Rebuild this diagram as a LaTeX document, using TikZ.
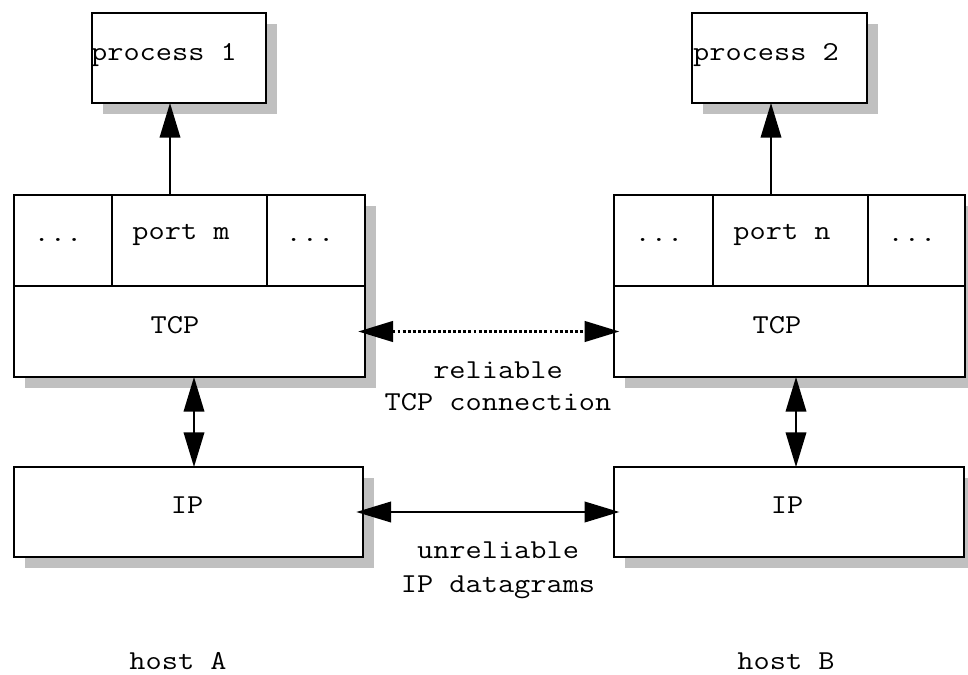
\documentclass[tikz,border=0pt]{standalone}
\usepackage{fontspec}
\newfontfamily\cour{Latin Modern Mono}[FakeStretch=1.15]
\usetikzlibrary{arrows.meta,shadows,fit}
\definecolor{shadowgray}{HTML}{C0C0C0}
\begin{document}
\begin{tikzpicture}[x=0.75pt,y=-0.75pt,
  box/.style={draw, line width=1.3pt, fill=white, inner sep=0pt, outer sep=0pt},
  shbox/.style={box, drop shadow={shadow xshift=8.25pt, shadow yshift=-8.6pt, fill=shadowgray, opacity=1}},
  txt/.style={font=\cour\fontsize{20.5}{24}\selectfont, inner sep=0pt, anchor=base},
  arr/.style={line width=1.1pt, -{Triangle[length=26pt,width=15.5pt]}},
  dbl/.style={line width=1.1pt, {Triangle[length=26pt,width=15.5pt]}-{Triangle[length=26pt,width=15.5pt]}}]
\useasboundingbox (0,0) rectangle (968,675);
\fill[white] (0,0) rectangle (968,675);

% process boxes
\node[shbox, fit={(92,13)(266,103)}] (p1) {};
\node[shbox, fit={(692,13)(867,103)}] (p2) {};

% host A TCP
\node[shbox, fit={(14,195)(365,377)}] (tcpA) {};
\node[box, fit={(14,195)(112,286)}] (dotsA1) {};
\node[box, fit={(112,195)(267,286)}] (portA) {};
\node[box, fit={(267,195)(365,286)}] (dotsA2) {};
\node[box, fit={(14,286)(365,377)}] (tcpAlow) {};

% host B TCP
\node[shbox, fit={(614,195)(965,377)}] (tcpB) {};
\node[box, fit={(614,195)(713,286)}] (dotsB1) {};
\node[box, fit={(713,195)(868,286)}] (portB) {};
\node[box, fit={(868,195)(965,286)}] (dotsB2) {};
\node[box, fit={(614,286)(965,377)}] (tcpBlow) {};

% IP boxes
\node[shbox, fit={(14,467)(363,557)}] (ipA) {};
\node[shbox, fit={(614,467)(964,557)}] (ipB) {};

% texts
\node[txt] (tp1) at (164,60) {process 1};
\node[txt] (tp2) at (766,60) {process 2};
\node[txt] (tdA1) at (58,241) {...};
\node[txt] (tpA) at (181,239) {port m};
\node[txt] (tdA2) at (310,241) {...};
\node[txt] (tdB1) at (659,241) {...};
\node[txt] (tpB) at (782,239) {port n};
\node[txt] (tdB2) at (912,241) {...};
\node[txt] (ttA) at (175,333) {TCP};
\node[txt] (ttB) at (777,333) {TCP};
\node[txt] (tiA) at (187,513) {IP};
\node[txt] (tiB) at (787,513) {IP};
\node[txt] (rel1) at (498,378) {reliable};
\node[txt] (rel2) at (498,410) {TCP connection};
\node[txt] (unr1) at (498,558) {unreliable};
\node[txt] (unr2) at (498,592) {IP datagrams};
\node[txt] (hA) at (178,669) {host A};
\node[txt] (hB) at (786,669) {host B};

% connectors
\coordinate (ax) at (170,0);
\coordinate (bx) at (771,0);
\coordinate (cx) at (194,0);
\coordinate (dx) at (796,0);
\draw[arr] (ax |- portA.north) -- (ax |- p1.south);
\draw[arr] (bx |- portB.north) -- (bx |- p2.south);
\draw[dbl] (cx |- tcpA.south) -- (cx |- ipA.north);
\draw[dbl] (dx |- tcpB.south) -- (dx |- ipB.north);
\draw[dbl, line width=1.6pt, dash pattern=on 2.2pt off 1.6pt, shorten <=-5pt, shorten >=-4pt] (tcpAlow.east) -- (tcpBlow.west);
\draw[dbl, shorten <=-5pt, shorten >=-4pt] (ipA.east) -- (ipB.west);
\end{tikzpicture}
\end{document}
